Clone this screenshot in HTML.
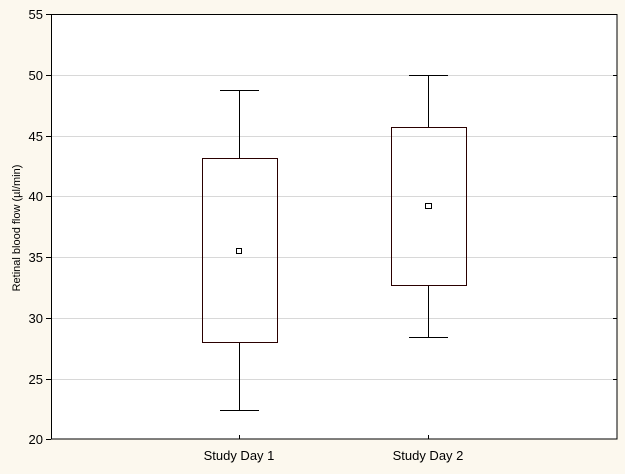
<!DOCTYPE html>
<html><head><style>body{margin:0;background:#fcf8ee}</style></head><body>
<svg width="625" height="469" xmlns="http://www.w3.org/2000/svg" font-family="Liberation Sans, sans-serif">
<rect width="625" height="469" fill="#fcf8ee"/>
<rect x="51" y="14" width="566" height="425" fill="#fff"/>
<g stroke="#d8d8d8" stroke-width="1">
<line x1="51" x2="617" y1="75.5" y2="75.5"/><line x1="51" x2="617" y1="136.5" y2="136.5"/>
<line x1="51" x2="617" y1="196.5" y2="196.5"/><line x1="51" x2="617" y1="257.5" y2="257.5"/>
<line x1="51" x2="617" y1="318.5" y2="318.5"/><line x1="51" x2="617" y1="379.5" y2="379.5"/>
</g>
<rect x="51.5" y="14.5" width="565.5" height="424.5" fill="none" stroke="#000" stroke-width="1"/>
<g stroke="#000">
<line x1="46" x2="51" y1="14.5" y2="14.5"/><line x1="46" x2="51" y1="75.5" y2="75.5"/><line x1="46" x2="51" y1="136.5" y2="136.5"/><line x1="46" x2="51" y1="196.5" y2="196.5"/><line x1="46" x2="51" y1="257.5" y2="257.5"/><line x1="46" x2="51" y1="318.5" y2="318.5"/><line x1="46" x2="51" y1="379.5" y2="379.5"/><line x1="46" x2="51" y1="439.5" y2="439.5"/>
<line x1="613" x2="617" y1="75.5" y2="75.5"/><line x1="613" x2="617" y1="136.5" y2="136.5"/><line x1="613" x2="617" y1="196.5" y2="196.5"/><line x1="613" x2="617" y1="257.5" y2="257.5"/><line x1="613" x2="617" y1="318.5" y2="318.5"/><line x1="613" x2="617" y1="379.5" y2="379.5"/>
<line x1="239.5" x2="239.5" y1="435" y2="439"/><line x1="428.5" x2="428.5" y1="435" y2="439"/>
</g>
<g stroke="#000" fill="none">
<line x1="239.5" x2="239.5" y1="90" y2="158"/><line x1="220" x2="259" y1="90.5" y2="90.5"/>
<line x1="239.5" x2="239.5" y1="342" y2="410"/><line x1="220" x2="259" y1="410.5" y2="410.5"/>
<rect x="202.5" y="158.5" width="75" height="184" stroke="#2a0000"/>
<rect x="236.5" y="248.5" width="5" height="5"/>
<line x1="428.5" x2="428.5" y1="75" y2="127"/><line x1="409" x2="448" y1="75.5" y2="75.5"/>
<line x1="428.5" x2="428.5" y1="285" y2="337"/><line x1="409" x2="448" y1="337.5" y2="337.5"/>
<rect x="391.5" y="127.5" width="75" height="158" stroke="#2a0000"/>
<rect x="425.5" y="203.5" width="6" height="5"/>
</g>
<g font-size="13" fill="#000" text-anchor="end">
<text x="43" y="19">55</text><text x="43" y="80">50</text><text x="43" y="141">45</text><text x="43" y="201">40</text><text x="43" y="262">35</text><text x="43" y="323">30</text><text x="43" y="384">25</text><text x="43" y="444">20</text>
</g>
<g font-size="13" text-anchor="middle">
<text x="239" y="460">Study Day 1</text><text x="428" y="460">Study Day 2</text>
</g>
<text transform="translate(20,228) rotate(-90)" font-size="11" text-anchor="middle">Retinal blood flow (µl/min)</text>
</svg>
</body></html>
